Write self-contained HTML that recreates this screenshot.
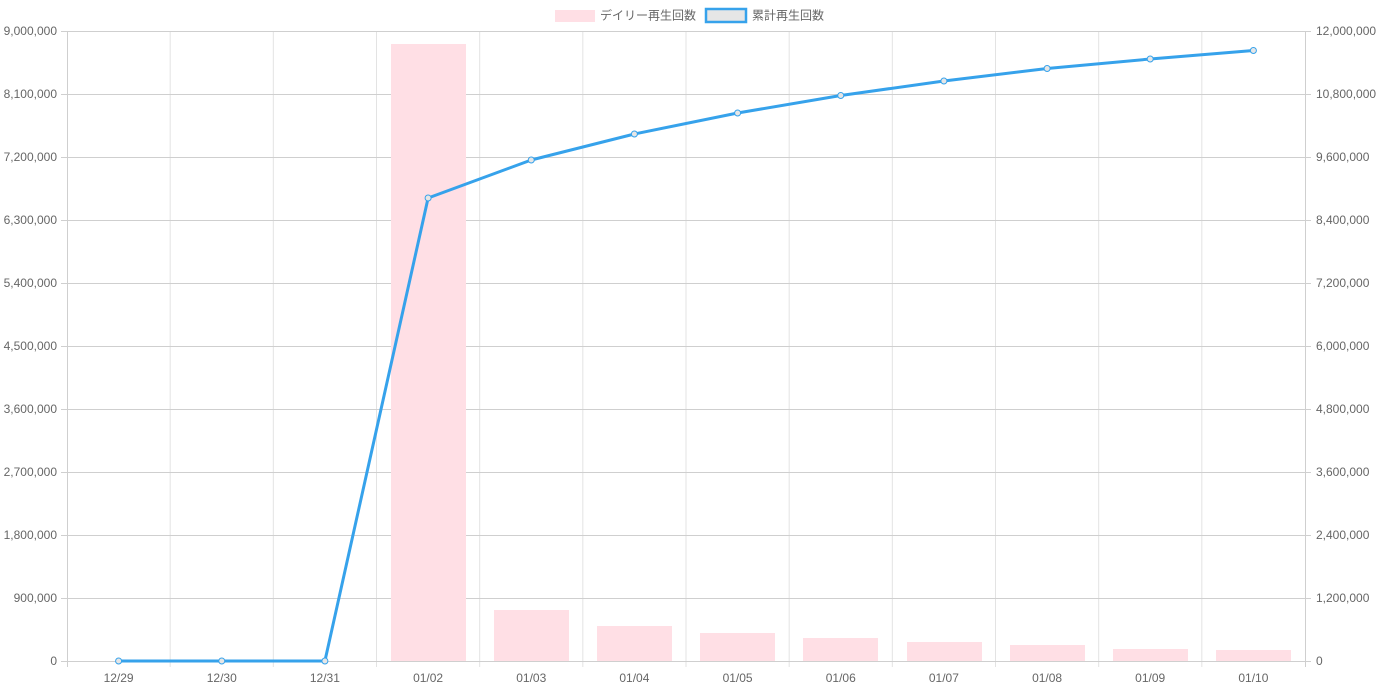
<!DOCTYPE html>
<html><head><meta charset="utf-8"><style>
html,body{margin:0;padding:0;background:#fff;width:1380px;height:690px;overflow:hidden}
text{font-family:"Liberation Sans","Noto Sans CJK JP",sans-serif;font-size:12px;fill:#666}
</style></head><body>
<svg width="1380" height="690" xmlns="http://www.w3.org/2000/svg">
<!-- legend -->
<rect x="555" y="10" width="40" height="12" fill="#ffdfe5"/>
<text x="600" y="19.5">デイリー再生回数</text>
<rect x="706" y="9" width="40" height="13" fill="#e6e6e6" stroke="#36a2eb" stroke-width="2.5"/>
<text x="752" y="19.5">累計再生回数</text>
<g stroke="#e3e3e3" stroke-width="1">
<line x1="170.2" y1="31" x2="170.2" y2="667"/><line x1="273.3" y1="31" x2="273.3" y2="667"/><line x1="376.5" y1="31" x2="376.5" y2="667"/><line x1="479.7" y1="31" x2="479.7" y2="667"/><line x1="582.8" y1="31" x2="582.8" y2="667"/><line x1="686" y1="31" x2="686" y2="667"/><line x1="789.2" y1="31" x2="789.2" y2="667"/><line x1="892.3" y1="31" x2="892.3" y2="667"/><line x1="995.5" y1="31" x2="995.5" y2="667"/><line x1="1098.7" y1="31" x2="1098.7" y2="667"/><line x1="1201.8" y1="31" x2="1201.8" y2="667"/>
</g>
<g stroke="#cfcfcf" stroke-width="1">
<line x1="61" y1="31.5" x2="1311" y2="31.5"/><line x1="61" y1="94.5" x2="1311" y2="94.5"/><line x1="61" y1="157.5" x2="1311" y2="157.5"/><line x1="61" y1="220.5" x2="1311" y2="220.5"/><line x1="61" y1="283.5" x2="1311" y2="283.5"/><line x1="61" y1="346.5" x2="1311" y2="346.5"/><line x1="61" y1="409.5" x2="1311" y2="409.5"/><line x1="61" y1="472.5" x2="1311" y2="472.5"/><line x1="61" y1="535.5" x2="1311" y2="535.5"/><line x1="61" y1="598.5" x2="1311" y2="598.5"/><line x1="61" y1="661.5" x2="1311" y2="661.5"/>
<line x1="67.5" y1="31" x2="67.5" y2="667"/><line x1="1305.5" y1="31" x2="1305.5" y2="667"/>
</g>
<g fill="#ffdfe5">
<rect x="391" y="44" width="75" height="617"/>
<rect x="494" y="610" width="75" height="51"/>
<rect x="597" y="626" width="75" height="35"/>
<rect x="700" y="633" width="75" height="28"/>
<rect x="803" y="638" width="75" height="23"/>
<rect x="907" y="642" width="75" height="19"/>
<rect x="1010" y="645" width="75" height="16"/>
<rect x="1113" y="649" width="75" height="12"/>
<rect x="1216" y="650" width="75" height="11"/>
</g>
<polyline fill="none" stroke="#36a2eb" stroke-width="3" stroke-linejoin="round" points="118.6,661 221.75,661 324.9,661 428.1,198 531.25,160 634.4,134 737.6,113 840.75,95.5 943.9,81 1047.1,68.5 1150.2,59 1253.4,50.5"/>
<g fill="#e6e6e6" stroke="#36a2eb" stroke-width="1">
<circle cx="118.6" cy="661" r="3"/><circle cx="221.75" cy="661" r="3"/><circle cx="324.9" cy="661" r="3"/><circle cx="428.1" cy="198" r="3"/><circle cx="531.25" cy="160" r="3"/><circle cx="634.4" cy="134" r="3"/><circle cx="737.6" cy="113" r="3"/><circle cx="840.75" cy="95.5" r="3"/><circle cx="943.9" cy="81" r="3"/><circle cx="1047.1" cy="68.5" r="3"/><circle cx="1150.2" cy="59" r="3"/><circle cx="1253.4" cy="50.5" r="3"/>
</g>
<g text-anchor="end">
<text x="57" y="35">9,000,000</text><text x="57" y="98">8,100,000</text><text x="57" y="161">7,200,000</text><text x="57" y="224">6,300,000</text><text x="57" y="287">5,400,000</text><text x="57" y="350">4,500,000</text><text x="57" y="413">3,600,000</text><text x="57" y="476">2,700,000</text><text x="57" y="539">1,800,000</text><text x="57" y="602">900,000</text><text x="57" y="665">0</text>
</g>
<g>
<text x="1316" y="35">12,000,000</text><text x="1316" y="98">10,800,000</text><text x="1316" y="161">9,600,000</text><text x="1316" y="224">8,400,000</text><text x="1316" y="287">7,200,000</text><text x="1316" y="350">6,000,000</text><text x="1316" y="413">4,800,000</text><text x="1316" y="476">3,600,000</text><text x="1316" y="539">2,400,000</text><text x="1316" y="602">1,200,000</text><text x="1316" y="665">0</text>
</g>
<g text-anchor="middle">
<text x="118.6" y="682">12/29</text><text x="221.75" y="682">12/30</text><text x="324.9" y="682">12/31</text><text x="428.1" y="682">01/02</text><text x="531.25" y="682">01/03</text><text x="634.4" y="682">01/04</text><text x="737.6" y="682">01/05</text><text x="840.75" y="682">01/06</text><text x="943.9" y="682">01/07</text><text x="1047.1" y="682">01/08</text><text x="1150.2" y="682">01/09</text><text x="1253.4" y="682">01/10</text>
</g>
</svg>
</body></html>
